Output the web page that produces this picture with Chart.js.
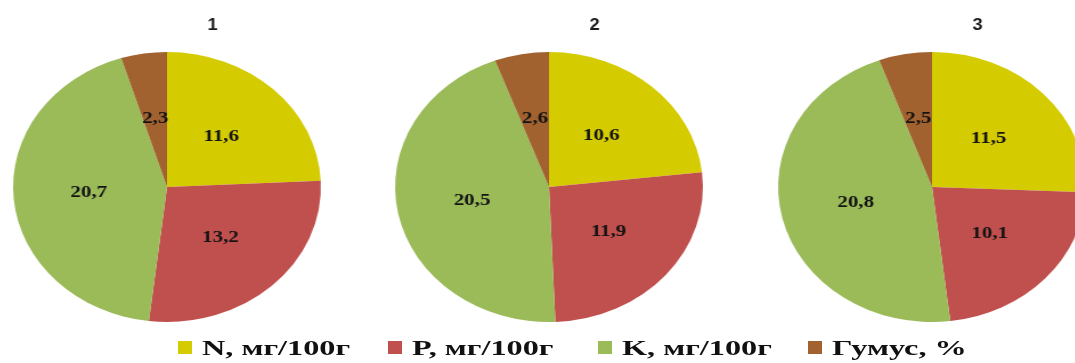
<!DOCTYPE html>
<html>
<head>
<meta charset="utf-8">
<script src="https://cdn.jsdelivr.net/npm/chart.js@4.4.1/dist/chart.umd.min.js"></script>
<style>
  html, body { margin: 0; padding: 0; background: #fff; }
  body { position: relative; width: 1075px; height: 363px; overflow: hidden; }
  .pie { position: absolute; top: 0; width: 320px; height: 363px;
         transform: scaleX(1.14); transform-origin: 50% 0; }
  .legend-box { position: absolute; top: 341px; width: 14px; height: 13px; }
  .legend-txt { position: absolute; top: 336px; white-space: nowrap; line-height: 22px;
                font: bold 21px "Liberation Serif", "Times New Roman", serif; color: #111;
                transform-origin: 0 50%; }
</style>
</head>
<body>
<div class="pie" id="p1"><canvas id="c1"></canvas></div>
<div class="pie" id="p2"><canvas id="c2"></canvas></div>
<div class="pie" id="p3"><canvas id="c3"></canvas></div>
<div id="legend"></div>
<script>
// Soil indicators for three plots
const categories = ['N, мг/100г', 'P, мг/100г', 'K, мг/100г', 'Гумус, %'];
const plotTitles = ['1', '2', '3'];
const plot1 = [11.6, 13.2, 20.7, 2.3];
const plot2 = [10.6, 11.9, 20.5, 2.6];
const plot3 = [11.5, 10.1, 20.8, 2.5];
const sliceColors = ['#D4CB00', '#C0504D', '#9BBB59', '#A2622F'];

const plots = [plot1, plot2, plot3];
const pieCentersX = [167, 549, 932];

const fmt = v => v.toFixed(1).replace('.', ',');

// Value labels inside the slices plus the small number above each pie
const sliceLabels = {
  id: 'sliceLabels',
  afterDatasetsDraw(chart, args, opts) {
    const { ctx, chartArea } = chart;
    const meta = chart.getDatasetMeta(0);
    const values = chart.data.datasets[0].data;
    ctx.save();
    ctx.fillStyle = '#141414';
    ctx.textAlign = 'center';
    ctx.textBaseline = 'middle';
    ctx.font = 'bold 16px "Liberation Serif", serif';
    meta.data.forEach((arc, i) => {
      const p = arc.getProps(['x', 'y', 'startAngle', 'endAngle', 'outerRadius'], true);
      const mid = (p.startAngle + p.endAngle) / 2;
      const r = p.outerRadius * 0.51;
      ctx.save();
      ctx.translate(p.x + Math.cos(mid) * r, p.y + Math.sin(mid) * r);
      ctx.scale(1.15, 1);
      ctx.fillText(fmt(values[i]), 0, 0);
      ctx.restore();
    });
    ctx.font = 'bold 16px "Liberation Sans", Arial, sans-serif';
    ctx.fillStyle = '#1a1a1a';
    ctx.fillText(opts.text, (chartArea.left + chartArea.right) / 2 + 40, 26);
    ctx.restore();
  }
};

plots.forEach((vals, k) => {
  const holder = document.getElementById('p' + (k + 1));
  holder.style.left = (pieCentersX[k] - 160) + 'px';
  new Chart(document.getElementById('c' + (k + 1)), {
    type: 'pie',
    data: {
      labels: categories,
      datasets: [{ data: vals, backgroundColor: sliceColors, borderWidth: 0 }]
    },
    options: {
      responsive: true,
      maintainAspectRatio: false,
      animation: false,
      layout: { padding: { top: 52, bottom: 41, left: 25, right: 25 } },
      plugins: {
        legend: { display: false },
        tooltip: { enabled: false },
        title: { display: false },
        sliceLabels: { text: plotTitles[k] }
      }
    },
    plugins: [sliceLabels]
  });
});

// Shared legend along the bottom
const legend = document.getElementById('legend');
const legendStart = 178, legendStep = 210, textGap = 24, targetTextWidth = 148;
const measure = document.createElement('canvas').getContext('2d');
measure.font = 'bold 21px "Liberation Serif"';
const stretch = targetTextWidth / measure.measureText(categories[0]).width;
categories.forEach((name, i) => {
  const x = legendStart + i * legendStep;
  const box = document.createElement('div');
  box.className = 'legend-box';
  box.style.left = x + 'px';
  box.style.background = sliceColors[i];
  legend.appendChild(box);
  const t = document.createElement('div');
  t.className = 'legend-txt';
  t.style.left = (x + textGap) + 'px';
  t.style.transform = 'scaleX(' + stretch.toFixed(3) + ')';
  t.textContent = name;
  legend.appendChild(t);
});
</script>
</body>
</html>
